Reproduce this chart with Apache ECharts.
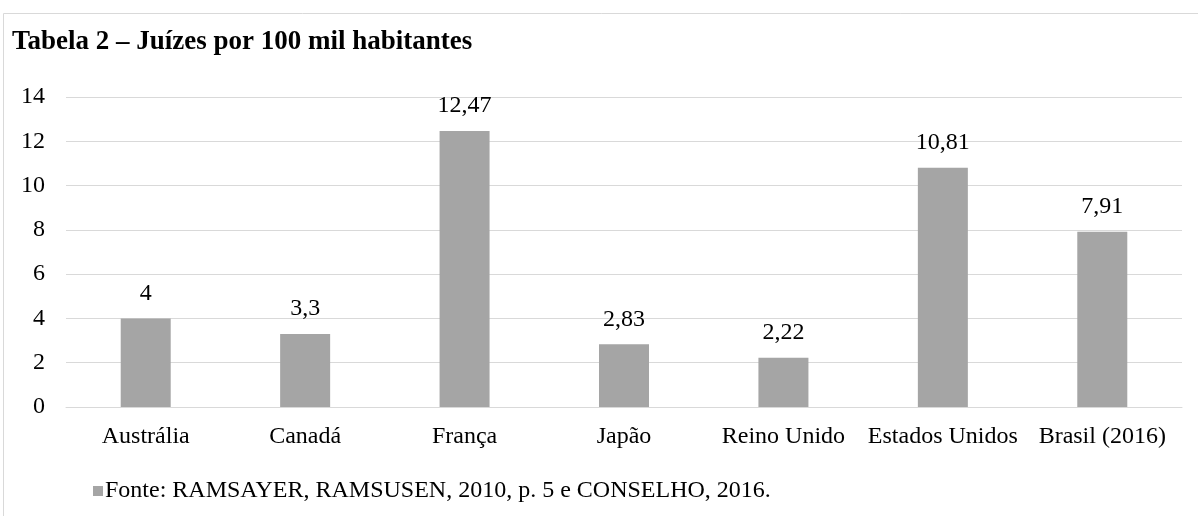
<!DOCTYPE html>
<html><head><meta charset="utf-8">
<script src="https://cdn.jsdelivr.net/npm/echarts@6/dist/echarts.min.js"></script>
<style>html,body{margin:0;padding:0;background:#fff}#c{width:1198px;height:516px}</style>
</head><body><div id="c"></div>
<script>
const categories = ['Austrália','Canadá','França','Japão','Reino Unido','Estados Unidos','Brasil (2016)'];
const values = [4, 3.3, 12.47, 2.83, 2.22, 10.81, 7.91];
const labels = ['4','3,3','12,47','2,83','2,22','10,81','7,91'];
const seriesName = 'Fonte: RAMSAYER, RAMSUSEN, 2010, p. 5 e CONSELHO, 2016.';
const titleText = 'Tabela 2 – Juízes por 100 mil habitantes';
const FONT = '"Liberation Serif","Times New Roman",serif';
const chart = echarts.init(document.getElementById('c'));
chart.setOption({
  animation:false,
  graphic:[{type:'rect',shape:{x:3.5,y:13.5,width:1300,height:600},style:{fill:'none',stroke:'#d9d9d9',lineWidth:1}}],
  title:{text:titleText,left:7,top:24,textStyle:{fontFamily:FONT,fontWeight:'bold',fontSize:27,color:'#000'}},
  legend:{left:88,top:474,itemWidth:10,itemHeight:10,itemGap:4,icon:'rect',textStyle:{fontFamily:FONT,fontSize:24,color:'#000',padding:[0,0,0,-3]},data:[seriesName]},
  grid:{left:66,right:16,top:97,bottom:109,containLabel:false},
  xAxis:{type:'category',data:categories,axisTick:{show:false},axisLine:{lineStyle:{color:'#d9d9d9',width:1}},
    axisLabel:{fontFamily:FONT,fontSize:24,color:'#000',margin:18,interval:0}},
  yAxis:{type:'value',min:0,max:14,interval:2,axisLine:{show:false},axisTick:{show:false},
    splitLine:{lineStyle:{color:'#d9d9d9',width:1}},
    axisLabel:{fontFamily:FONT,fontSize:24,color:'#000',margin:21}},
  series:[{name:seriesName,type:'bar',data:values,barWidth:50,itemStyle:{color:'#a5a5a5'},
    label:{show:true,position:'top',distance:13,fontFamily:FONT,fontSize:24,color:'#000',formatter:p=>labels[p.dataIndex]}}]
});
</script></body></html>
